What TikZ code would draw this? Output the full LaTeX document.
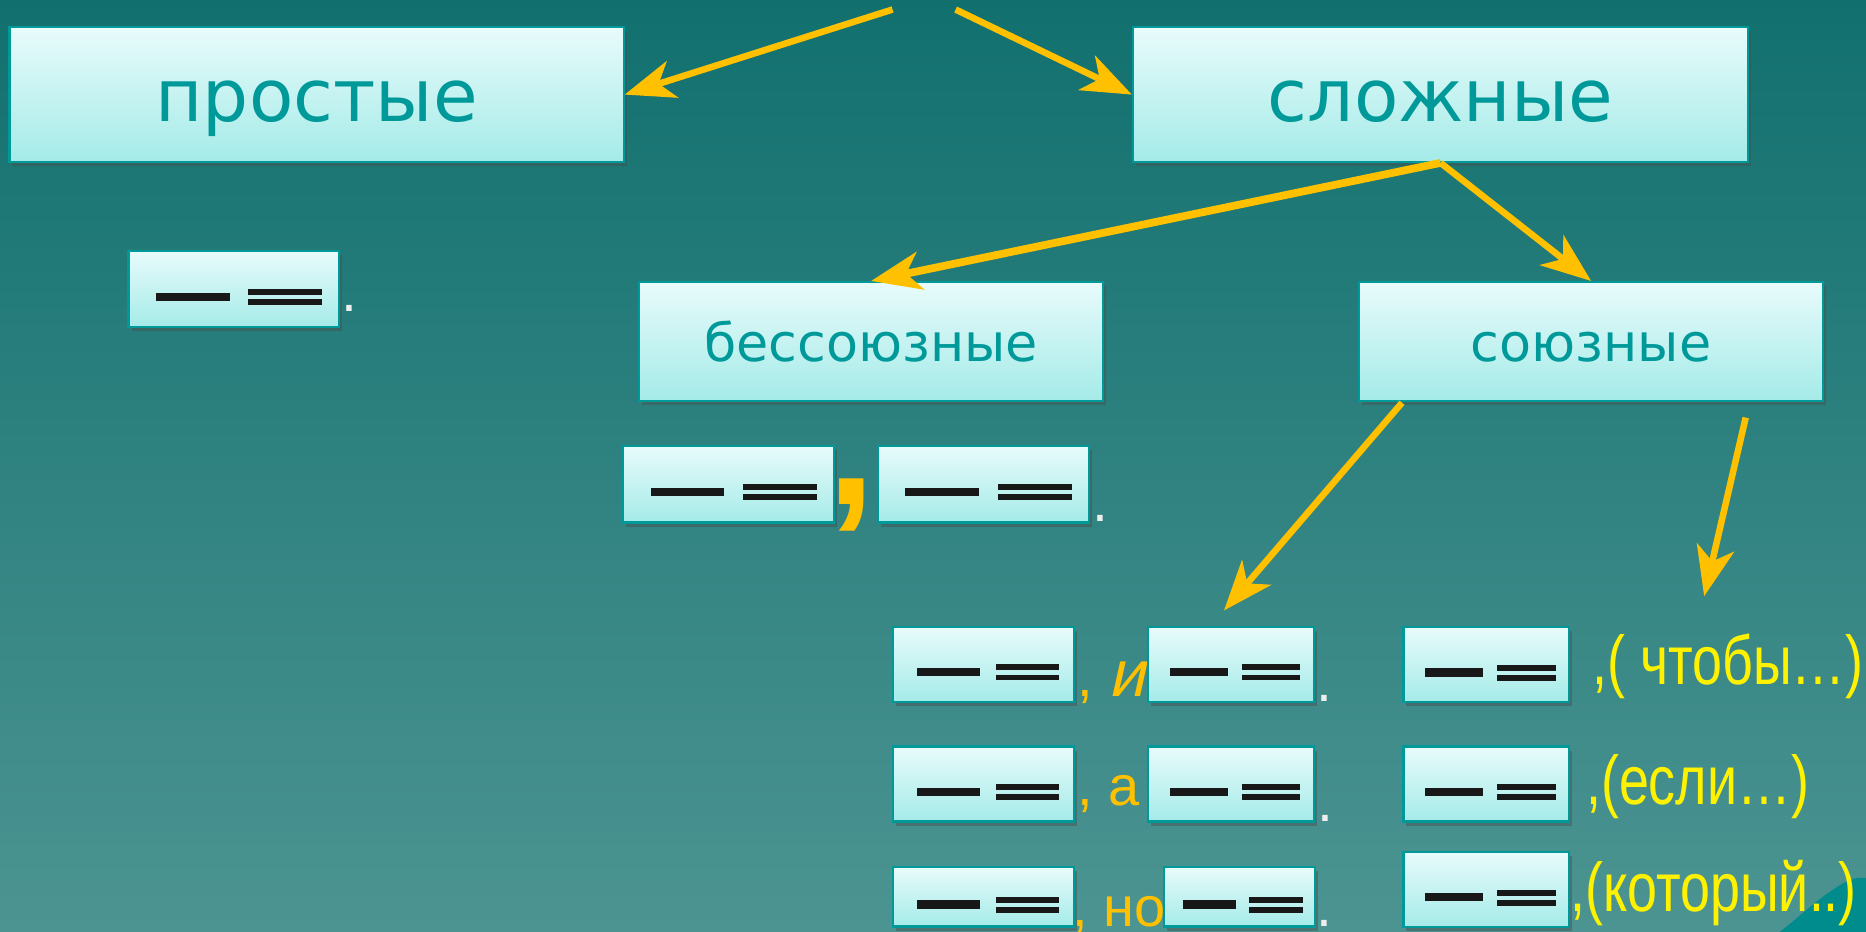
\documentclass[tikz,border=0pt]{standalone}
\usepackage{fontspec}
\usepackage{graphicx}
\usepackage{tikz}
\usetikzlibrary{calc,shadows,arrows.meta,backgrounds}
\newfontfamily\boxfont{DejaVu Sans}
\newfontfamily\orfont{Liberation Sans}
\newfontfamily\slantfont[FakeSlant=0.22]{Liberation Sans}
\definecolor{bgtop}{RGB}{17,112,110}
\definecolor{bgbottom}{RGB}{76,148,146}
\definecolor{boxtop}{RGB}{232,251,251}
\definecolor{boxbottom}{RGB}{164,235,232}
\definecolor{boxline}{RGB}{0,153,153}
\definecolor{orangeyellow}{RGB}{255,192,0}
\definecolor{blobcolor}{RGB}{0,140,140}
\definecolor{markcolor}{RGB}{24,24,24}
\definecolor{dotcolor}{RGB}{238,238,238}
\newcommand{\arrowcolor}{orangeyellow}
\newcommand{\thickness}{5.5pt}
\newcommand{\predmarks}[1]{
\fill[markcolor] ($(#1.west)!0.133!(#1.east)+(0,3)$) rectangle ($(#1.west)!0.48!(#1.east)+(0,10)$);
\fill[markcolor] ($(#1.west)!0.567!(#1.east)+(0,0)$) rectangle ($(#1.west)!0.914!(#1.east)+(0,5)$);
\fill[markcolor] ($(#1.west)!0.567!(#1.east)+(0,8.5)$) rectangle ($(#1.west)!0.914!(#1.east)+(0,13.5)$);
}
\tikzset{
  sbox/.style={draw=boxline, line width=1.8pt, top color=boxtop, bottom color=boxbottom,
    drop shadow={shadow xshift=2.5pt, shadow yshift=-3.5pt, opacity=0.45, fill=black!70}, inner sep=0pt},
  biglabel/.style={font=\boxfont\fontsize{61}{66}\selectfont, text=boxline, text height=45pt, text depth=0pt},
  smalllabel/.style={font=\boxfont\fontsize{44}{48}\selectfont, text=boxline, text height=34pt, text depth=0pt},
  arr/.style={draw=\arrowcolor, line width=\thickness, -{Stealth[length=42pt,width=32pt,inset=12pt]}},
  ortext/.style={font=\orfont\fontsize{47}{52}\selectfont, text=orangeyellow, inner sep=0pt, anchor=base west},
  ytext/.style={font=\orfont\fontsize{58}{62}\selectfont, text=yellow, inner sep=0pt, anchor=base west},
  dot/.style={font=\orfont\fontsize{48}{52}\selectfont, text=dotcolor, inner sep=0pt, anchor=base},
}

\begin{document}
\begin{tikzpicture}[x=1pt, y=-1pt]
\useasboundingbox (0,0) rectangle (1568,783);
\shade[top color=bgtop, bottom color=bgbottom] (0,0) rectangle (1568,783);
\fill[blobcolor] (1495.7,783) .. controls (1515,768) and (1535,748) .. (1554.6,739.5) .. controls (1560,737.5) .. (1568,737.8) -- (1568,783) -- cycle;
%texts
\node[ortext] (and1) at (904.8, 585.4) {, {\slantfont\fontsize{55}{60}\selectfont и}};
\node[ortext] (and2) at (904.8, 676.5) {, а};
\node[ortext, anchor=base east] (and3) at (980.0, 778.7) {, но};
\node[ytext] (conj1) at (1337.8, 575.6) {\scalebox{0.78}[1]{,( чтобы…)}};
\node[ytext] (conj2) at (1332.6, 675.6) {\scalebox{0.78}[1]{,(если…)}};
\node[ytext] (conj3) at (1319.4, 766.0) {\scalebox{0.78}[1]{,(который..)}};
%top
\node[sbox] (prostye) at (266.0, 79.5) [minimum width=516pt, minimum height=113pt, biglabel] {простые};
\node[sbox] (slozhnye) at (1210.5, 79.5) [minimum width=517pt, minimum height=113pt, biglabel] {сложные};
\node[sbox] (bessoyuz) at (732.0, 287.0) [minimum width=390pt, minimum height=100pt, smalllabel] {бессоюзные};
\node[sbox] (soyuz) at (1337.0, 287.0) [minimum width=390pt, minimum height=100pt, smalllabel] {союзные};
%prostye
\node[sbox] (s0) at (196.5, 243.0) [minimum width=177pt, minimum height=64pt] {};
\node[dot] (d0) at (294.0, 262.0) {.};
%bessoyuznye
\node[sbox] (bA) at (612.3, 407.0) [minimum width=177pt, minimum height=64pt] {};
\node[sbox] (bB) at (826.5, 407.0) [minimum width=177pt, minimum height=64pt] {};
\node[font=\orfont\bfseries\fontsize{145}{150}\selectfont, text=orangeyellow, inner sep=0pt, anchor=base] (bcomma) at (715.5, 424.0) {,};
\node[dot] (d1) at (924.5, 438.4) {.};
%soyuznye
\node[sbox] (u1a) at (826.6, 558.3) [minimum width=152pt, minimum height=63pt] {};
\node[sbox] (u1b) at (1034.5, 558.3) [minimum width=139pt, minimum height=63pt] {};
\node[sbox] (u2a) at (826.6, 658.8) [minimum width=152pt, minimum height=63pt] {};
\node[sbox] (u2b) at (1034.5, 658.8) [minimum width=139pt, minimum height=63pt] {};
\node[sbox] (u3a) at (826.6, 753.5) [minimum width=152pt, minimum height=50pt] {};
\node[sbox] (u3b) at (1041.3, 753.5) [minimum width=127pt, minimum height=50pt] {};
\node[dot] (d2) at (1113.0, 589.6) {.};
\node[dot] (d3) at (1114.0, 690.0) {.};
\node[dot] (d4) at (1113.0, 778.7) {.};
\node[sbox] (y1) at (1248.8, 558.5) [minimum width=139pt, minimum height=63pt] {};
\node[sbox] (y2) at (1248.8, 658.8) [minimum width=139pt, minimum height=63pt] {};
\node[sbox] (y3) at (1248.8, 747.5) [minimum width=139pt, minimum height=63pt] {};
%marks
\predmarks{s0}
\predmarks{bA}
\predmarks{bB}
\predmarks{u1a}
\predmarks{u1b}
\predmarks{u2a}
\predmarks{u2b}
\predmarks{u3a}
\predmarks{u3b}
\predmarks{y1}
\predmarks{y2}
\predmarks{y3}
%arrows
\coordinate (top1) at (750.0, 8.0);
\coordinate (top2) at (803.0, 8.0);
\coordinate (tip5) at (1028.5, 513.0);
\coordinate (tip6) at (1432.0, 501.0);
\draw[arr] (top1) -- (prostye.east);
\draw[arr] (top2) -- (slozhnye.west);
\draw[arr, line width=6.5pt] (slozhnye.south) -- (bessoyuz.north);
\draw[arr] (slozhnye.south) -- (soyuz.north);
\draw[arr] ($(soyuz.south west)+(37,0.5)$) -- (tip5);
\draw[arr] ($(soyuz.south east)+(-66,13)$) -- (tip6);
\end{tikzpicture}
\end{document}
